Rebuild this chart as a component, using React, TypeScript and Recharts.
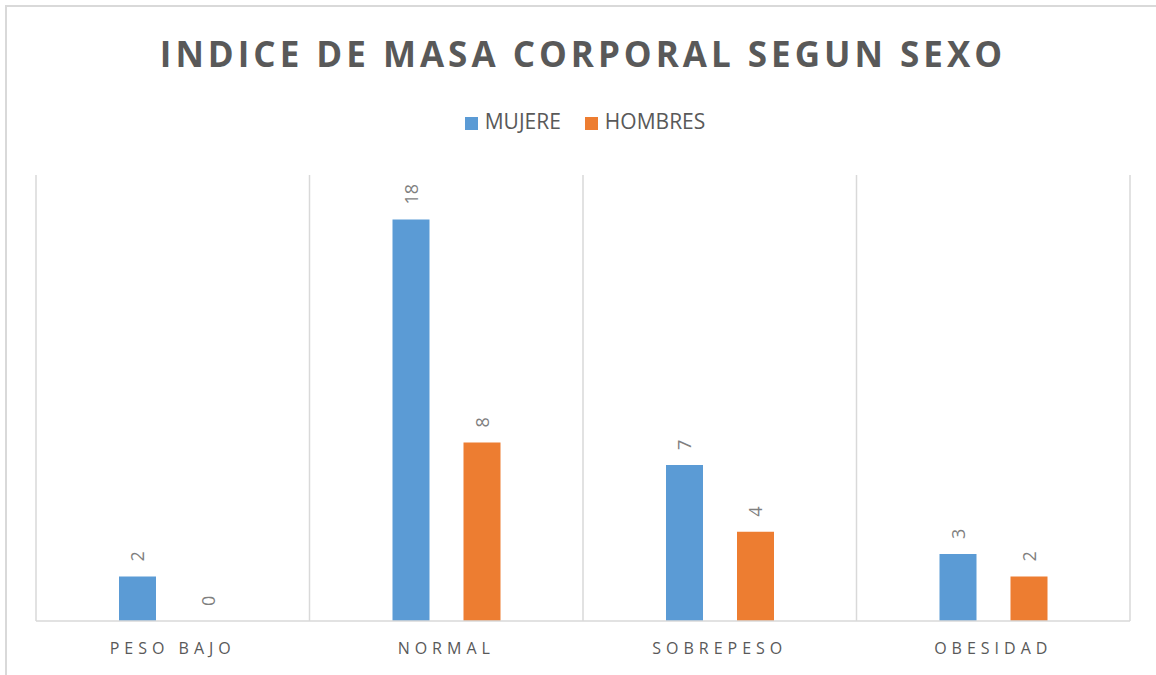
import { BarChart, Bar, XAxis, YAxis, CartesianGrid, Legend } from 'recharts'

const categories = ['PESO BAJO', 'NORMAL', 'SOBREPESO', 'OBESIDAD']
const mujere = [2, 18, 7, 3]
const hombres = [0, 8, 4, 2]

const data = categories.map((name, i) => ({ name, mujere: mujere[i], hombres: hombres[i] }))

const FONT = '"Open Sans", "Noto Sans", sans-serif'
const GRAY = '#595959'
const GRID = '#d9d9d9'
const legendOrder = ['MUJERE', 'HOMBRES']

function Tick({ x, y, payload }: any) {
  return (
    <text x={x} y={y + 25} textAnchor="middle" fill={GRAY} fontSize={16} fontFamily={FONT} letterSpacing={5}>
      {payload.value}
    </text>
  )
}

function ValueLabel({ x, y, width, height, value }: any) {
  const cx = x + width / 2
  const top = Math.min(y, y + height)
  const cy = top - 15
  return (
    <text x={cx} y={cy} transform={`rotate(-90 ${cx} ${cy})`} textAnchor="start" dominantBaseline="central"
      fill="#7f7f7f" fontSize={18} fontFamily={FONT}>
      {value}
    </text>
  )
}

export default function App() {
  return (
    <div style={{ position: 'fixed', left: 0, top: 0, width: 1156, height: 675, overflow: 'hidden', background: '#fff' }}>
      <div style={{ position: 'absolute', left: 5, top: 5, width: 1300, height: 800, border: '2px solid #d9d9d9' }} />
      <div style={{
        position: 'absolute', left: 0, top: 30, width: 1166, textAlign: 'center', fontFamily: FONT,
        fontWeight: 700, fontSize: 35, letterSpacing: 4, color: GRAY,
      }}>
        INDICE DE MASA CORPORAL SEGUN SEXO
      </div>
      <div style={{ position: 'absolute', left: 0, top: 0 }}>
        <BarChart width={1156} height={675} data={data} margin={{ top: 147, left: 36, right: 26, bottom: 24 }}
          barSize={37} barGap={34}>
          <CartesianGrid horizontal={false} stroke={GRID} strokeWidth={1.5}
            verticalCoordinatesGenerator={({ offset }: any) =>
              [0, 1, 2, 3, 4].map(i => offset.left + (i * offset.width) / 4)} />
          <XAxis dataKey="name" axisLine={{ stroke: GRID, strokeWidth: 1.5 }} tickLine={false} tick={<Tick />} interval={0} />
          <YAxis hide domain={[0, 20]} />
          <Legend verticalAlign="top" align="center" iconType="square" iconSize={13}
            itemSorter={(item: any) => legendOrder.indexOf(item.value)}
            wrapperStyle={{ top: 107, left: 50, fontFamily: FONT, fontSize: 21 }}
            formatter={(v: string) => <span style={{ color: GRAY, marginLeft: 3, marginRight: 14 }}>{v}</span>} />
          <Bar dataKey="mujere" name="MUJERE" fill="#5B9BD5" isAnimationActive={false} label={<ValueLabel />} />
          <Bar dataKey="hombres" name="HOMBRES" fill="#ED7D31" isAnimationActive={false} minPointSize={0.01}
            label={<ValueLabel />} />
        </BarChart>
      </div>
    </div>
  )
}
